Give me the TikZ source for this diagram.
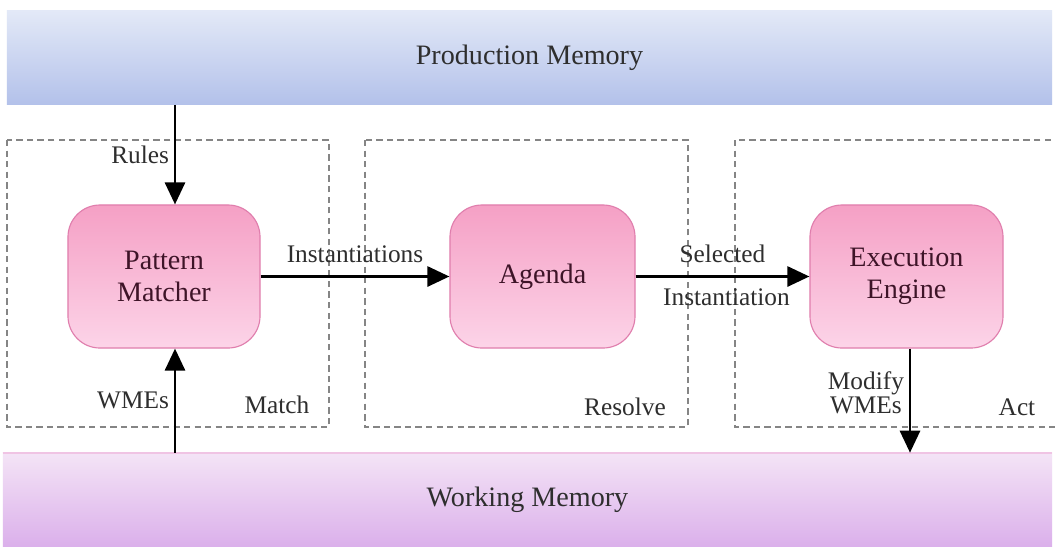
\documentclass[tikz,border=0pt]{standalone}
\usepackage{fontspec}
\setmainfont{Liberation Serif}
\usetikzlibrary{arrows.meta}
\definecolor{azulT}{HTML}{E3E9F7}
\definecolor{azulF}{HTML}{B3C1EA}
\definecolor{lilaT}{HTML}{F4E4F6}
\definecolor{lilaF}{HTML}{DBB0EB}
\definecolor{lilaB}{HTML}{F0C4E4}
\definecolor{rosaT}{HTML}{F5A0C5}
\definecolor{rosaF}{HTML}{FCD4E8}
\definecolor{rosaB}{HTML}{E07EAD}
\definecolor{grisD}{HTML}{858585}
\definecolor{textoR}{HTML}{3E1428}
\definecolor{textoG}{HTML}{2E2E2E}

\begin{document}
\begin{tikzpicture}[x=0.025cm,y=-0.025cm,
    flow/.style={line width=2pt,-{Triangle[length=0.55cm,width=0.5cm]}},
    fase/.style={draw=grisD,line width=1.1pt,dash pattern=on 4.5pt off 3pt},
    barra/.style={minimum height=2.35cm,font=\fontsize{20}{24}\selectfont,text=textoG},
    caja/.style={rounded corners=0.8cm,draw=rosaB,line width=0.8pt,top color=rosaT,bottom color=rosaF,
      minimum height=3.575cm,align=center,font=\fontsize{20}{23}\selectfont,text=textoR},
    lbl/.style={font=\fontsize{18}{20}\selectfont,text=textoG,align=center}]
  \useasboundingbox (0,0) rectangle (1055,549);
  \fill[white] (0,0) rectangle (1055,549);

  \draw[fase] (7,140) rectangle (329,427);
  \draw[fase] (365,140) rectangle (688,427);
  \draw[fase] (735,140) rectangle (1070,427);

  \node[barra,top color=azulT,bottom color=azulF,minimum width=26.125cm] (prod) at (529.5,57.5) {Production Memory};
  \node[barra,top color=lilaT,bottom color=lilaF,minimum width=26.225cm,minimum height=2.325cm] (work) at (527.5,499.5) {Working Memory};
  \draw[lilaB,line width=1.2pt] (work.north west) -- (work.north east);

  \node[caja,minimum width=4.8cm] (pm) at (164,276.5) {Pattern\\Matcher};
  \node[caja,minimum width=4.625cm] (agenda) at (542.5,276.5) {Agenda};
  \node[caja,minimum width=4.825cm] (exec) at (906.5,276.5) {Execution\\Engine};

  \coordinate (rx) at (175,0);
  \coordinate (mx) at (910,0);

  \draw[flow] (prod.south -| rx) -- node[lbl,left] (lrules) {Rules} (pm.north -| rx);
  \draw[flow] (work.north -| rx) -- node[lbl,left] (lwmes) {WMEs} (pm.south -| rx);
  \draw[flow] (pm.east) -- node[lbl,above,yshift=0.2cm] (linst) {Instantiations} (agenda.west);
  \draw[flow] (agenda.east) -- node[lbl,above,yshift=0.2cm] (lsel) {Selected}
    node[lbl,below,xshift=0.1cm,yshift=-0.15cm] (lsel2) {Instantiation} (exec.west);
  \draw[flow] (exec.south -| mx) -- node[lbl,left,yshift=0.2cm] (lmod) {Modify\\[-3pt]WMEs} (work.north -| mx);

  \node[lbl] (lmatch) at (277,405) {Match};
  \node[lbl] (lresolve) at (625,407) {Resolve};
  \node[lbl] (lact) at (1017,407) {Act};
\end{tikzpicture}
\end{document}
